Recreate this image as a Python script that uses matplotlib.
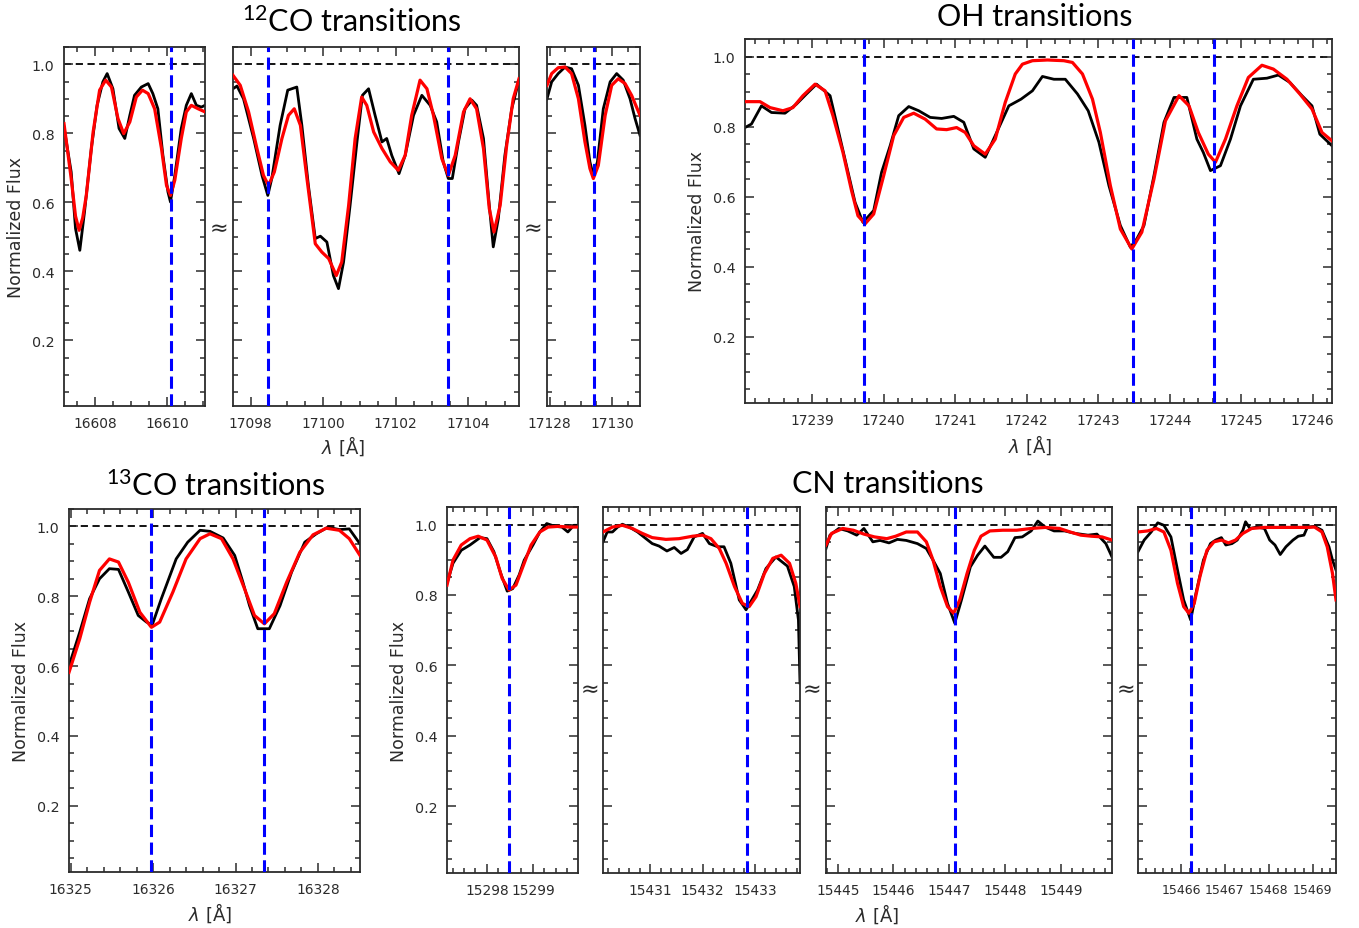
import matplotlib
matplotlib.use('Agg')
import matplotlib.pyplot as plt
from matplotlib import ticker

plt.rcParams['mathtext.fontset'] = 'custom'
plt.rcParams['mathtext.rm'] = 'Lato'
plt.rcParams['mathtext.it'] = 'Lato:italic'
plt.rcParams['mathtext.bf'] = 'Lato:bold'

W, H = 1359, 929
AX = '#2b2b2b'

# ---------------- data (wavelength in Angstrom, normalized flux) ----------------
# 12CO, window 1
co12a_wl_obs = [16607.13, 16607.33, 16607.45, 16607.57, 16607.70, 16607.89, 16608.05, 16608.21, 16608.33,
                16608.49, 16608.66, 16608.82, 16608.96, 16609.09, 16609.28, 16609.47, 16609.60, 16609.74,
                16609.88, 16610.02, 16610.09, 16610.21, 16610.39, 16610.53, 16610.67, 16610.81, 16610.95, 16611.05]
co12a_obs = [0.818, 0.688, 0.524, 0.461, 0.572, 0.756, 0.881, 0.949, 0.973,
             0.929, 0.814, 0.785, 0.852, 0.910, 0.934, 0.944, 0.915, 0.871,
             0.736, 0.630, 0.601, 0.678, 0.814, 0.881, 0.915, 0.881, 0.876, 0.881]
co12a_wl_fit = [16607.13, 16607.33, 16607.45, 16607.55, 16607.65, 16607.75, 16607.94, 16608.12, 16608.29,
                16608.45, 16608.63, 16608.79, 16608.96, 16609.14, 16609.31, 16609.47, 16609.65, 16609.84,
                16609.98, 16610.09, 16610.21, 16610.39, 16610.53, 16610.67, 16610.86, 16611.05]
co12a_fit = [0.828, 0.669, 0.560, 0.519, 0.555, 0.620, 0.804, 0.925, 0.954,
             0.934, 0.843, 0.799, 0.833, 0.905, 0.925, 0.915, 0.871, 0.756,
             0.649, 0.620, 0.664, 0.785, 0.862, 0.881, 0.871, 0.862]
co12a_lines = [16610.1]

# 12CO, window 2
co12b_wl_obs = [17097.51, 17097.62, 17097.80, 17098.08, 17098.31, 17098.47, 17098.58, 17098.81, 17099.02,
                17099.27, 17099.41, 17099.59, 17099.78, 17099.92, 17100.10, 17100.28, 17100.42, 17100.56,
                17100.74, 17100.93, 17101.08, 17101.25, 17101.43, 17101.62, 17101.75, 17101.89, 17102.09,
                17102.26, 17102.49, 17102.72, 17102.95, 17103.13, 17103.31, 17103.45, 17103.56, 17103.73,
                17103.91, 17104.10, 17104.23, 17104.42, 17104.58, 17104.69, 17104.83, 17105.01, 17105.20, 17105.40]
co12b_obs = [0.929, 0.937, 0.900, 0.785, 0.678, 0.620, 0.669, 0.823, 0.925,
             0.934, 0.823, 0.649, 0.495, 0.502, 0.485, 0.388, 0.350, 0.427,
             0.591, 0.775, 0.910, 0.929, 0.852, 0.775, 0.785, 0.736, 0.683,
             0.736, 0.852, 0.910, 0.881, 0.833, 0.717, 0.669, 0.669, 0.775,
             0.871, 0.896, 0.881, 0.785, 0.591, 0.471, 0.553, 0.736, 0.871, 0.954]
co12b_wl_fit = [17097.51, 17097.71, 17097.94, 17098.17, 17098.35, 17098.49, 17098.65, 17098.86, 17099.04,
                17099.20, 17099.37, 17099.55, 17099.78, 17099.96, 17100.15, 17100.36, 17100.51, 17100.70,
                17100.88, 17101.06, 17101.20, 17101.39, 17101.62, 17101.85, 17102.07, 17102.26, 17102.44,
                17102.67, 17102.86, 17103.04, 17103.27, 17103.45, 17103.64, 17103.87, 17104.05, 17104.23,
                17104.42, 17104.58, 17104.71, 17104.88, 17105.06, 17105.24, 17105.40]
co12b_fit = [0.968, 0.939, 0.862, 0.756, 0.678, 0.649, 0.688, 0.785, 0.852,
             0.871, 0.823, 0.669, 0.480, 0.456, 0.437, 0.388, 0.427, 0.591,
             0.785, 0.905, 0.881, 0.804, 0.756, 0.717, 0.693, 0.736, 0.852,
             0.954, 0.929, 0.852, 0.727, 0.678, 0.736, 0.862, 0.900, 0.871,
             0.756, 0.582, 0.514, 0.591, 0.765, 0.900, 0.958]
co12b_lines = [17098.47, 17103.45]

# 12CO, window 3
co12c_wl_obs = [17127.91, 17128.06, 17128.27, 17128.49, 17128.70, 17128.92, 17129.13, 17129.29, 17129.40,
                17129.53, 17129.72, 17129.94, 17130.15, 17130.36, 17130.58, 17130.74, 17130.90]
co12c_obs = [0.900, 0.949, 0.973, 0.992, 0.987, 0.939, 0.823, 0.717, 0.678,
             0.717, 0.871, 0.949, 0.973, 0.954, 0.900, 0.843, 0.794]
co12c_wl_fit = [17127.91, 17128.06, 17128.27, 17128.49, 17128.70, 17128.92, 17129.13, 17129.29, 17129.40,
                17129.56, 17129.78, 17129.99, 17130.20, 17130.42, 17130.63, 17130.90]
co12c_fit = [0.939, 0.973, 0.990, 0.992, 0.973, 0.900, 0.775, 0.698, 0.669,
             0.707, 0.852, 0.939, 0.958, 0.944, 0.910, 0.852]
co12c_lines = [17129.42]

# OH
oh_wl_obs = [17238.06, 17238.15, 17238.29, 17238.43, 17238.62, 17238.78, 17238.92, 17239.06, 17239.25,
             17239.36, 17239.48, 17239.60, 17239.71, 17239.86, 17239.97, 17240.09, 17240.21, 17240.35,
             17240.49, 17240.65, 17240.81, 17240.98, 17241.12, 17241.26, 17241.42, 17241.58, 17241.75,
             17241.92, 17242.08, 17242.22, 17242.38, 17242.54, 17242.71, 17242.86, 17243.01, 17243.15,
             17243.31, 17243.45, 17243.54, 17243.64, 17243.78, 17243.92, 17244.06, 17244.24, 17244.38,
             17244.47, 17244.57, 17244.71, 17244.85, 17244.99, 17245.17, 17245.36, 17245.52, 17245.68,
             17245.85, 17245.99, 17246.10, 17246.27]
oh_obs = [0.797, 0.807, 0.859, 0.840, 0.838, 0.864, 0.893, 0.921, 0.888,
          0.793, 0.688, 0.583, 0.526, 0.560, 0.669, 0.745, 0.831, 0.857,
          0.845, 0.826, 0.823, 0.829, 0.812, 0.736, 0.712, 0.783, 0.859,
          0.878, 0.902, 0.943, 0.935, 0.935, 0.893, 0.845, 0.755, 0.631,
          0.517, 0.455, 0.479, 0.517, 0.660, 0.812, 0.883, 0.883, 0.764,
          0.726, 0.674, 0.688, 0.764, 0.859, 0.935, 0.938, 0.947, 0.926,
          0.888, 0.859, 0.778, 0.745]
oh_wl_fit = [17238.06, 17238.27, 17238.41, 17238.59, 17238.73, 17238.87, 17239.04, 17239.18, 17239.29,
             17239.43, 17239.55, 17239.64, 17239.74, 17239.86, 17240.00, 17240.14, 17240.28, 17240.42,
             17240.58, 17240.74, 17240.88, 17241.02, 17241.14, 17241.26, 17241.42, 17241.56, 17241.70,
             17241.84, 17241.94, 17242.08, 17242.29, 17242.52, 17242.64, 17242.78, 17242.92, 17243.03,
             17243.17, 17243.31, 17243.47, 17243.61, 17243.78, 17243.94, 17244.13, 17244.27, 17244.40,
             17244.54, 17244.64, 17244.78, 17244.94, 17245.10, 17245.29, 17245.45, 17245.64, 17245.82,
             17245.99, 17246.13, 17246.27]
oh_fit = [0.871, 0.871, 0.854, 0.845, 0.854, 0.888, 0.921, 0.902, 0.831,
          0.726, 0.617, 0.545, 0.522, 0.550, 0.660, 0.774, 0.826, 0.838,
          0.821, 0.793, 0.791, 0.797, 0.783, 0.745, 0.721, 0.764, 0.869,
          0.950, 0.978, 0.988, 0.990, 0.988, 0.983, 0.950, 0.878, 0.783,
          0.631, 0.507, 0.450, 0.498, 0.650, 0.816, 0.888, 0.859, 0.783,
          0.721, 0.698, 0.764, 0.859, 0.940, 0.975, 0.964, 0.935, 0.893,
          0.850, 0.783, 0.759]
oh_lines = [17239.72, 17243.48, 17244.62]

# 13CO
co13_wl_obs = [16324.98, 16325.11, 16325.23, 16325.35, 16325.47, 16325.58, 16325.70, 16325.82, 16325.92,
               16325.99, 16326.10, 16326.28, 16326.42, 16326.57, 16326.69, 16326.85, 16326.99, 16327.09,
               16327.17, 16327.27, 16327.41, 16327.54, 16327.68, 16327.84, 16327.98, 16328.12, 16328.26,
               16328.38, 16328.51]
co13_obs = [0.601, 0.697, 0.793, 0.850, 0.879, 0.877, 0.812, 0.745, 0.726,
            0.718, 0.793, 0.907, 0.955, 0.989, 0.986, 0.967, 0.917, 0.840,
            0.773, 0.707, 0.707, 0.773, 0.869, 0.955, 0.979, 0.998, 0.991,
            0.993, 0.950]
co13_wl_fit = [16324.98, 16325.11, 16325.23, 16325.35, 16325.47, 16325.58, 16325.70, 16325.84, 16325.98,
               16326.08, 16326.24, 16326.40, 16326.57, 16326.69, 16326.83, 16326.97, 16327.11, 16327.23,
               16327.35, 16327.47, 16327.62, 16327.78, 16327.94, 16328.10, 16328.26, 16328.38, 16328.51]
co13_fit = [0.582, 0.678, 0.783, 0.874, 0.907, 0.898, 0.840, 0.754, 0.711,
            0.726, 0.812, 0.907, 0.965, 0.979, 0.965, 0.907, 0.821, 0.745,
            0.721, 0.750, 0.840, 0.926, 0.976, 0.995, 0.989, 0.965, 0.917]
co13_lines = [16325.98, 16327.35]

# CN, window 1
cn1_wl_obs = [15297.13, 15297.26, 15297.44, 15297.63, 15297.85, 15298.00, 15298.15, 15298.30, 15298.44,
              15298.56, 15298.70, 15298.81, 15299.00, 15299.15, 15299.30, 15299.48, 15299.63, 15299.76,
              15299.89, 15300.02]
cn1_obs = [0.833, 0.890, 0.927, 0.942, 0.963, 0.960, 0.923, 0.861, 0.811,
           0.818, 0.857, 0.899, 0.942, 0.979, 1.003, 0.995, 0.993, 0.979,
           0.998, 0.998]
cn1_wl_fit = [15297.13, 15297.26, 15297.44, 15297.63, 15297.81, 15298.00, 15298.19, 15298.33, 15298.48,
              15298.63, 15298.78, 15298.96, 15299.15, 15299.33, 15299.56, 15299.78, 15300.02]
cn1_fit = [0.828, 0.899, 0.942, 0.960, 0.967, 0.956, 0.908, 0.847, 0.814,
           0.828, 0.880, 0.942, 0.979, 0.993, 0.995, 0.993, 0.993]
cn1_lines = [15298.47]

# CN, window 2
cn2_wl_obs = [15430.10, 15430.18, 15430.28, 15430.38, 15430.47, 15430.60, 15430.76, 15430.92, 15431.04,
              15431.17, 15431.32, 15431.46, 15431.59, 15431.71, 15431.84, 15432.00, 15432.13, 15432.29,
              15432.41, 15432.54, 15432.70, 15432.83, 15432.92, 15433.05, 15433.21, 15433.40, 15433.62,
              15433.75, 15433.83, 15433.86]
cn2_obs = [0.951, 0.979, 0.979, 0.993, 1.001, 0.993, 0.979, 0.960, 0.946,
           0.939, 0.925, 0.935, 0.918, 0.929, 0.965, 0.975, 0.946, 0.937,
           0.937, 0.890, 0.786, 0.758, 0.781, 0.814, 0.875, 0.908, 0.882,
           0.824, 0.729, 0.550]
cn2_wl_fit = [15430.10, 15430.28, 15430.47, 15430.66, 15430.85, 15431.04, 15431.30, 15431.55, 15431.81,
              15432.00, 15432.16, 15432.32, 15432.45, 15432.61, 15432.76, 15432.89, 15433.02, 15433.18,
              15433.34, 15433.50, 15433.66, 15433.78, 15433.86]
cn2_fit = [0.979, 0.993, 0.998, 0.989, 0.975, 0.963, 0.958, 0.960, 0.967,
           0.970, 0.960, 0.932, 0.890, 0.824, 0.776, 0.767, 0.795, 0.861,
           0.904, 0.913, 0.890, 0.833, 0.767]
cn2_lines = [15432.85]

# CN, window 3
cn3_wl_obs = [15444.79, 15444.86, 15445.02, 15445.18, 15445.34, 15445.47, 15445.63, 15445.76, 15445.92,
              15446.07, 15446.23, 15446.43, 15446.59, 15446.71, 15446.84, 15446.97, 15447.10, 15447.22,
              15447.38, 15447.51, 15447.64, 15447.80, 15447.93, 15448.05, 15448.18, 15448.31, 15448.47,
              15448.59, 15448.72, 15448.88, 15449.07, 15449.26, 15449.49, 15449.65, 15449.81, 15449.92]
cn3_obs = [0.932, 0.970, 0.989, 0.982, 0.970, 0.989, 0.951, 0.955, 0.948,
           0.958, 0.955, 0.946, 0.932, 0.899, 0.861, 0.776, 0.720, 0.786,
           0.880, 0.913, 0.939, 0.907, 0.907, 0.923, 0.963, 0.965, 0.982,
           1.010, 0.993, 0.982, 0.982, 0.975, 0.970, 0.973, 0.946, 0.908]
cn3_wl_fit = [15444.79, 15444.89, 15445.09, 15445.28, 15445.47, 15445.66, 15445.88, 15446.04, 15446.23,
              15446.43, 15446.59, 15446.71, 15446.84, 15446.97, 15447.08, 15447.19, 15447.32, 15447.45,
              15447.57, 15447.73, 15447.96, 15448.21, 15448.47, 15448.72, 15448.98, 15449.17, 15449.36,
              15449.55, 15449.74, 15449.92]
cn3_fit = [0.942, 0.975, 0.989, 0.984, 0.973, 0.965, 0.960, 0.967, 0.979,
           0.979, 0.951, 0.899, 0.824, 0.767, 0.748, 0.786, 0.861, 0.927,
           0.967, 0.982, 0.984, 0.984, 0.989, 0.992, 0.989, 0.979, 0.970,
           0.967, 0.965, 0.956]
cn3_lines = [15447.11]

# CN, window 4
cn4_wl_obs = [15465.02, 15465.16, 15465.32, 15465.47, 15465.61, 15465.77, 15465.92, 15466.06, 15466.22,
              15466.34, 15466.51, 15466.67, 15466.79, 15466.92, 15467.02, 15467.16, 15467.28, 15467.41,
              15467.47, 15467.57, 15467.73, 15467.90, 15468.02, 15468.14, 15468.26, 15468.39, 15468.55,
              15468.67, 15468.80, 15468.88, 15469.04, 15469.21, 15469.37, 15469.45, 15469.53]
cn4_obs = [0.923, 0.956, 0.979, 1.005, 0.998, 0.965, 0.871, 0.786, 0.729,
           0.805, 0.899, 0.946, 0.956, 0.963, 0.942, 0.946, 0.956, 0.984,
           1.008, 0.989, 0.993, 0.989, 0.956, 0.942, 0.915, 0.937, 0.956,
           0.967, 0.970, 0.993, 0.995, 0.984, 0.937, 0.899, 0.871]
cn4_wl_fit = [15465.02, 15465.24, 15465.44, 15465.61, 15465.77, 15465.92, 15466.06, 15466.18, 15466.30,
              15466.43, 15466.59, 15466.75, 15466.92, 15467.08, 15467.24, 15467.41, 15467.61, 15467.90,
              15468.22, 15468.55, 15468.88, 15469.04, 15469.21, 15469.33, 15469.45, 15469.53]
cn4_fit = [0.979, 0.982, 0.989, 0.979, 0.927, 0.833, 0.767, 0.748, 0.776,
           0.852, 0.927, 0.951, 0.956, 0.948, 0.956, 0.975, 0.989, 0.992,
           0.992, 0.992, 0.992, 0.993, 0.979, 0.937, 0.861, 0.786]
cn4_lines = [15466.22]

# ---------------- figure ----------------
fig = plt.figure(figsize=(W / 100, H / 100), dpi=100)


def add_panel(x0, y0, x1, y1):
    return fig.add_axes([x0 / W, 1 - y1 / H, (x1 - x0) / W, (y1 - y0) / H])


def panel(box, wl_obs, obs, wl_fit, fit, lines, xlim, major, minor, ylab=False, xsize=9.9):
    ax = add_panel(*box)
    ax.axhline(1.0, color='black', ls=(0, (4, 2.5)), lw=1.3, zorder=1)
    ax.plot(wl_obs, obs, color='black', lw=2.0, zorder=2)
    ax.plot(wl_fit, fit, color='red', lw=2.3, zorder=3)
    for wl in lines:
        ax.axvline(wl, color='blue', ls=(0, (4, 1.8)), lw=2.2, zorder=4)
    ax.set_xlim(*xlim)
    ax.set_ylim(0.01, 1.05)
    ax.xaxis.set_major_locator(ticker.MultipleLocator(major))
    ax.xaxis.set_minor_locator(ticker.MultipleLocator(minor))
    ax.xaxis.set_major_formatter(ticker.FormatStrFormatter('%d'))
    ax.yaxis.set_major_locator(ticker.MultipleLocator(0.2))
    ax.yaxis.set_minor_locator(ticker.MultipleLocator(0.05))
    ax.tick_params(which='both', direction='in', top=True, right=True, colors=AX,
                   width=1.1, labelcolor='#2b2b2b')
    ax.tick_params(axis='y', labelsize=10.3)
    ax.tick_params(axis='x', labelsize=xsize)
    ax.tick_params(which='major', length=6.5, pad=7)
    ax.tick_params(which='minor', length=3.5)
    ax.tick_params(axis='y', labelleft=ylab)
    for s in ax.spines.values():
        s.set_color(AX)
        s.set_linewidth(1.3)
    if ylab:
        ax.set_ylabel('Normalized Flux', fontsize=12.5, color='#2b2b2b', labelpad=5)
    return ax


panel((64, 48, 205, 407), co12a_wl_obs, co12a_obs, co12a_wl_fit, co12a_fit, co12a_lines,
      (16607.13, 16611.05), 2, 0.5, ylab=True)
panel((233, 48, 519, 407), co12b_wl_obs, co12b_obs, co12b_wl_fit, co12b_fit, co12b_lines,
      (17097.51, 17105.40), 2, 0.5)
panel((547, 48, 640, 407), co12c_wl_obs, co12c_obs, co12c_wl_fit, co12c_fit, co12c_lines,
      (17127.91, 17130.90), 2, 0.5)
panel((745, 40, 1332, 404), oh_wl_obs, oh_obs, oh_wl_fit, oh_fit, oh_lines,
      (17238.06, 17246.27), 1, 0.2, ylab=True)
panel((69, 510, 360, 873), co13_wl_obs, co13_obs, co13_wl_fit, co13_fit, co13_lines,
      (16324.98, 16328.51), 1, 0.2, ylab=True)
panel((447, 508, 578, 874), cn1_wl_obs, cn1_obs, cn1_wl_fit, cn1_fit, cn1_lines,
      (15297.13, 15299.98), 1, 0.25, ylab=True)
panel((603, 508, 800, 874), cn2_wl_obs, cn2_obs, cn2_wl_fit, cn2_fit, cn2_lines,
      (15430.10, 15433.86), 1, 0.2)
panel((826, 508, 1112, 874), cn3_wl_obs, cn3_obs, cn3_wl_fit, cn3_fit, cn3_lines,
      (15444.79, 15449.92), 1, 0.2)
panel((1138, 508, 1336, 874), cn4_wl_obs, cn4_obs, cn4_wl_fit, cn4_fit, cn4_lines,
      (15465.02, 15469.53), 1, 0.2, xsize=9.0)

# titles (slide-style font)
title_kw = dict(fontsize=22, family='Lato', ha='center', va='baseline', color='black',
                math_fontfamily='custom')
fig.text(352 / W, 1 - 32 / H, r'$^{12}$CO transitions', **title_kw)
fig.text(1035 / W, 1 - 26 / H, 'OH transitions', **title_kw)
fig.text(216 / W, 1 - 496 / H, r'$^{13}$CO transitions', **title_kw)
fig.text(888 / W, 1 - 493 / H, 'CN transitions', **title_kw)

# axis labels
xl_kw = dict(fontsize=13, ha='center', va='center', color='#2b2b2b')
fig.text(343 / W, 1 - 446 / H, r'$\lambda$ [Å]', math_fontfamily='dejavusans', **xl_kw)
fig.text(1030 / W, 1 - 445 / H, r'$\lambda$ [Å]', math_fontfamily='dejavusans', **xl_kw)
fig.text(210 / W, 1 - 913 / H, r'$\lambda$ [Å]', math_fontfamily='dejavusans', **xl_kw)
fig.text(877 / W, 1 - 914 / H, r'$\lambda$ [Å]', math_fontfamily='dejavusans', **xl_kw)

# break marks between windows
for bx, by in [(219, 229), (533, 229), (590, 690), (812, 690), (1126, 690)]:
    fig.text(bx / W, 1 - by / H, '≈', fontsize=16, ha='center', va='center', color='#2b2b2b')

fig.savefig('out.png', dpi=100, facecolor='white')
